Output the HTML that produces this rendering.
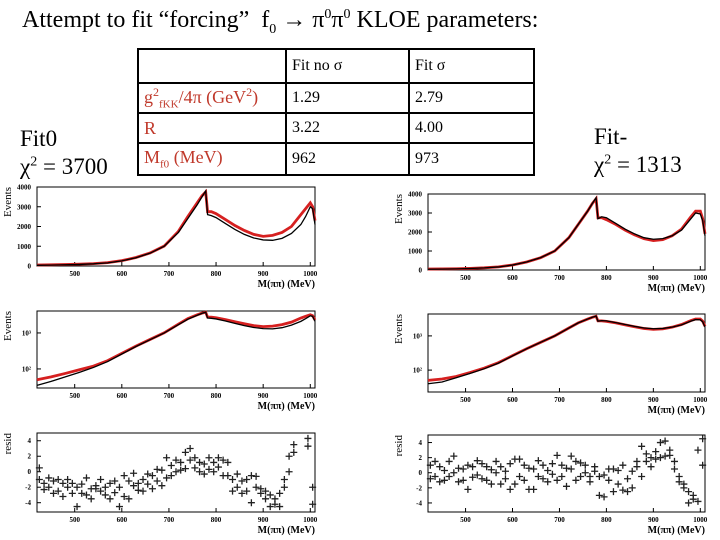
<!DOCTYPE html>
<html><head><meta charset="utf-8">
<style>
body{margin:0;background:#fff;}
#wrap{position:relative;width:720px;height:540px;overflow:hidden;background:#fff;font-family:"Liberation Serif",serif;}
.t{position:absolute;white-space:nowrap;color:#000;}
table{position:absolute;left:137px;top:48px;border-collapse:collapse;font-family:"Liberation Serif",serif;font-size:16px;}
td{border:2px solid #000;padding:0 0 0 5px;height:28px;vertical-align:middle;}
.red{color:#c0392b;font-size:18px;}
</style></head>
<body>
<div id="wrap">
<div class="t" style="left:22px;top:7px;font-size:24px;">Attempt to fit “forcing”&nbsp; f<sub style="font-size:14px">0</sub> → π<sup style="font-size:14px">0</sup>π<sup style="font-size:14px">0</sup> KLOE parameters:</div>
<div class="t" style="left:20px;top:126px;font-size:23px;">Fit0</div>
<div class="t" style="left:20px;top:154px;font-size:23px;">χ<sup style="font-size:14px">2</sup> = 3700</div>
<div class="t" style="left:594px;top:124px;font-size:23px;">Fit-</div>
<div class="t" style="left:594px;top:152px;font-size:23px;">χ<sup style="font-size:14px">2</sup> = 1313</div>
<table>
<tr style="height:34px"><td style="width:141px"></td><td style="width:116px">Fit no σ</td><td style="width:118px">Fit σ</td></tr>
<tr style="height:30px"><td class="red">g<sup style="font-size:12px">2</sup><sub style="font-size:11px">fKK</sub>/4π (GeV<sup style="font-size:12px">2</sup>)</td><td>1.29</td><td>2.79</td></tr>
<tr style="height:30px"><td class="red">R</td><td>3.22</td><td>4.00</td></tr>
<tr style="height:32px"><td class="red">M<sub style="font-size:11px">f0</sub> (MeV)</td><td>962</td><td>973</td></tr>
</table>
<svg id="plots" width="720" height="540" style="position:absolute;left:0;top:0"></svg>
</div>
<script>
const curveMass=[420,450,480,510,540,570,600,630,660,690,720,740,760,770,778,782,790,800,820,840,860,880,900,920,940,960,980,990,1000,1005,1010];
const leftFit=[35,45,60,80,110,160,260,420,650,1000,1700,2400,3100,3500,3800,2600,2550,2450,2150,1850,1600,1420,1320,1300,1400,1650,2100,2500,3000,2900,2100];
const leftData=[50,60,75,95,120,170,270,430,660,1010,1750,2500,3200,3550,3750,2750,2750,2650,2350,2050,1800,1600,1500,1550,1700,2000,2600,2900,3200,3000,2300];
const rightFit=[40,45,60,80,110,160,260,420,650,1000,1700,2400,3100,3500,3800,2700,2800,2750,2450,2150,1900,1700,1620,1650,1800,2100,2700,3000,2950,2600,1800];
const rightData=[50,55,65,85,115,165,265,420,650,1000,1700,2400,3100,3500,3750,2750,2750,2650,2400,2100,1850,1650,1550,1600,1800,2150,2800,3100,3100,2700,1900];
const resMass=[425,435,445,455,465,475,485,495,505,515,525,535,545,555,565,575,585,595,605,615,625,635,645,655,665,675,685,695,705,715,725,735,745,755,765,775,785,795,805,815,825,835,845,855,865,875,885,895,905,915,925,935,945,955,965,975,985,995,1005];
const leftResA=[-1,-1.5,-2,-1.2,-2.5,-1.5,-2,-2.8,-2,-1.6,-3,-2.2,-1.8,-2.5,-3,-1.5,-2.7,-2,-3.2,-1.2,-1.8,-2.4,-1,-1.6,-0.5,-1.2,0.2,-0.8,0.8,0,1.2,0.4,1.5,0.5,0,1,0.3,1.2,0.6,1.5,-0.5,-1,-2,-1.2,-2.5,-0.5,-2,-2.8,-3.5,-3,-4.2,-4.5,-2,0,3.5,null,null,4.3,-2];
const leftResB=[0.5,-2.3,-0.8,-2.8,-1,-3.2,-1,-1.5,-4.5,-2.8,-0.8,-3.5,-2.2,-1,-2,-3.5,-1.2,-4.5,-0.5,-3.5,-0.2,-1.5,-2.5,-0.3,-2.2,0.3,-1.8,1.8,-0.5,1.5,0.2,2.5,3,1.8,1.2,-0.3,1.8,0,1.8,-0.5,1.2,-2.5,-0.3,-2.8,-1,-4,-0.6,-2.2,-2.5,-4.5,-3.5,-2.8,-1,2,2.5,null,null,3.3,-4.2];
const rightResA=[1,-0.5,0.8,-1,1.5,0,-1.2,0.5,-2.2,0.8,-0.3,1.2,-1,0.4,1.5,-1.5,0.2,-2.2,1.8,-0.5,1,-2.2,0.5,1.6,-0.8,0.3,1.2,2.3,-0.5,0.6,2.2,-1,1.3,0,-0.5,0.2,-3,-0.3,0.5,-2.5,0.3,-2.3,-0.8,-2,0.8,3.5,1.5,0.8,2.8,2,4.2,2.3,1.5,-0.5,-1.5,-2.5,-3.5,-3.8,4.5];
const rightResB=[-0.8,1.5,-1.2,0.3,-0.5,2.2,0.6,-1,1,-0.6,1.6,-0.8,0.8,-1.5,0,0.8,-0.8,1.2,-1.5,1.8,-1,0.6,-2.2,-0.5,1,-1.2,-0.2,-1,1,-1.8,0.5,1.5,-0.5,1,-1.2,0.8,-0.5,-3.2,-1,0.5,-1.5,1,-2.5,0.2,1.5,-0.5,2.5,2,1.8,4,2.2,3,0.5,-1.2,-2,-4,-3,3,1];
const xTicks=[500,600,700,800,900,1000];
const linTicks=[0,1000,2000,3000,4000];
const residTicks=[-4,-2,0,2,4];

const NS="http://www.w3.org/2000/svg";
const svg=document.getElementById('plots');
function mk(tag,attrs,parent){const e=document.createElementNS(NS,tag);for(const k in attrs)e.setAttribute(k,attrs[k]);(parent||svg).appendChild(e);return e;}
function xScale(p){return m=>p.x0+(m-420)/(1010-420)*(p.x1-p.x0);}

function frame(p,name,ylabel,yticks,yfmt,ys){
  const g=mk('g',{});
  
  
  const r=mk('rect',{x:p.x0,y:p.y0,width:p.x1-p.x0,height:p.y1-p.y0,fill:'none',stroke:'#000','stroke-width':1},g);
  
  
  const xs=xScale(p);
  xTicks.forEach(v=>{
    mk('line',{x1:xs(v),x2:xs(v),y1:p.y1,y2:p.y1-4,stroke:'#000'},g);
    const t=mk('text',{x:xs(v),y:p.y1+10,'font-size':7,'font-weight':'bold','text-anchor':'middle','font-family':'Liberation Serif'},g);
    t.textContent=v;
    
    
  });
  yticks.forEach(v=>{
    const y=ys(v);
    mk('line',{x1:p.x0,x2:p.x0+4,y1:y,y2:y,stroke:'#000'},g);
    const t=mk('text',{x:p.x0-6,y:y+2.5,'font-size':7,'font-weight':'bold','text-anchor':'end','font-family':'Liberation Serif'},g);
    t.textContent=yfmt(v);
    
    
  });
  const xl=mk('text',{x:p.x1,y:p.y1+21,'font-size':10,'font-weight':'bold','text-anchor':'end','font-family':'Liberation Serif'},g);
  xl.textContent='M(ππ) (MeV)';
  
  
  const yl=mk('text',{x:0,y:0,'font-size':11,'text-anchor':'end','font-family':'Liberation Serif',transform:`translate(${p.x0-26},${p.y0}) rotate(-90)`},g);
  yl.textContent=ylabel;
  
  
}
function curves(p,ys,data,fit,name){
  const xs=xScale(p);
  const dpts=curveMass.map((m,i)=>xs(m)+','+ys(data[i])).join(' ');
  const d=mk('polyline',{points:dpts,fill:'none',stroke:'#d62020','stroke-width':2.8});
  
  
  const fpts=curveMass.map((m,i)=>xs(m)+','+ys(fit[i])).join(' ');
  const f=mk('polyline',{points:fpts,fill:'none',stroke:'#000','stroke-width':1.3});
  
  
}
function resid(p,ys,a,b,name){
  const xs=xScale(p);
  const g=mk('g',{stroke:'#222','stroke-width':1.3});
  
  
  [a,b].forEach(arr=>arr.forEach((v,i)=>{
    if(v===null)return;
    const x=xs(resMass[i]),y=Math.max(p.y0+3,Math.min(p.y1-3,ys(v)));
    mk('path',{d:`M${x-3.5},${y}h7M${x},${y-3.5}v7`},g);
  }));
}
function lin(p){return v=>p.y1-(v/4000)*(p.y1-p.y0);}
function lg(p,lo,hi){return v=>p.y1-(Math.log10(v)-lo)/(hi-lo)*(p.y1-p.y0);}
function rs(p,lo,hi){return v=>p.y1-(v-lo)/(hi-lo)*(p.y1-p.y0);}
const powFmt=v=>'10'+(v===100?'²':'³');

const L1={x0:37,x1:315,y0:187,y1:266}, L2={x0:37,x1:315,y0:311,y1:388}, L3={x0:37,x1:315,y0:433,y1:512};
const R1={x0:428,x1:705,y0:194,y1:270}, R2={x0:428,x1:705,y0:314,y1:392}, R3={x0:428,x1:705,y0:435,y1:512};
[[L1,L2,L3,leftData,leftFit,leftResA,leftResB,'left',1.47,3.61],[R1,R2,R3,rightData,rightFit,rightResA,rightResB,'right',1.36,3.64]].forEach(c=>{
  const [P1,P2,P3,dat,fit,ra,rb,side,lo,hi]=c;
  const y1=lin(P1);frame(P1,side+'-linear-panel','Events',linTicks,v=>v,y1);curves(P1,y1,dat,fit,side+'-linear');
  const y2=lg(P2,lo,hi);frame(P2,side+'-log-panel','Events',[100,1000],powFmt,y2);curves(P2,y2,dat,fit,side+'-log');
  const y3=rs(P3,-5.2,5);frame(P3,side+'-resid-panel','resid',residTicks,v=>v,y3);resid(P3,y3,ra,rb,side+'-residuals');
});
</script>
</body></html>
